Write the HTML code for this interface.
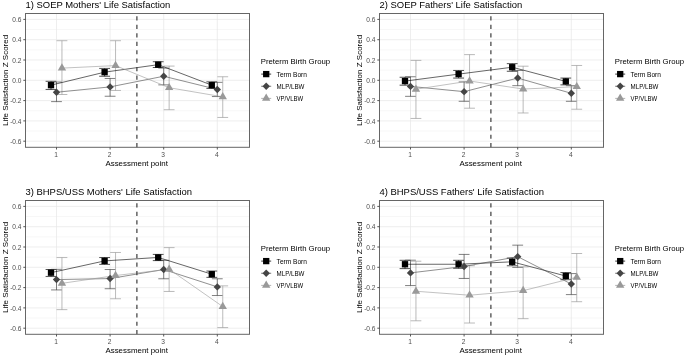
<!DOCTYPE html>
<html><head><meta charset="utf-8"><title>Life Satisfaction</title>
<style>html,body{margin:0;padding:0;background:#fff}body{width:685px;height:356px;overflow:hidden;font-family:"Liberation Sans",sans-serif}svg{display:block;will-change:transform}</style>
</head><body>
<svg width="685" height="356" viewBox="0 0 685 356" font-family="Liberation Sans, sans-serif">
<rect width="685" height="356" fill="#fff"/>
<g><line x1="25.5" x2="249.5" y1="141.20" y2="141.20" stroke="#e6e6e6" stroke-width="0.7"/>
<line x1="25.5" x2="249.5" y1="131.05" y2="131.05" stroke="#efefef" stroke-width="0.5"/>
<line x1="25.5" x2="249.5" y1="120.90" y2="120.90" stroke="#e6e6e6" stroke-width="0.7"/>
<line x1="25.5" x2="249.5" y1="110.75" y2="110.75" stroke="#efefef" stroke-width="0.5"/>
<line x1="25.5" x2="249.5" y1="100.60" y2="100.60" stroke="#e6e6e6" stroke-width="0.7"/>
<line x1="25.5" x2="249.5" y1="90.45" y2="90.45" stroke="#efefef" stroke-width="0.5"/>
<line x1="25.5" x2="249.5" y1="80.30" y2="80.30" stroke="#e6e6e6" stroke-width="0.7"/>
<line x1="25.5" x2="249.5" y1="70.15" y2="70.15" stroke="#efefef" stroke-width="0.5"/>
<line x1="25.5" x2="249.5" y1="60.00" y2="60.00" stroke="#e6e6e6" stroke-width="0.7"/>
<line x1="25.5" x2="249.5" y1="49.85" y2="49.85" stroke="#efefef" stroke-width="0.5"/>
<line x1="25.5" x2="249.5" y1="39.70" y2="39.70" stroke="#e6e6e6" stroke-width="0.7"/>
<line x1="25.5" x2="249.5" y1="29.55" y2="29.55" stroke="#efefef" stroke-width="0.5"/>
<line x1="25.5" x2="249.5" y1="19.40" y2="19.40" stroke="#e6e6e6" stroke-width="0.7"/>
<line x1="56.50" x2="56.50" y1="13.5" y2="147.3" stroke="#e6e6e6" stroke-width="0.7"/>
<line x1="110.10" x2="110.10" y1="13.5" y2="147.3" stroke="#e6e6e6" stroke-width="0.7"/>
<line x1="163.70" x2="163.70" y1="13.5" y2="147.3" stroke="#e6e6e6" stroke-width="0.7"/>
<line x1="217.30" x2="217.30" y1="13.5" y2="147.3" stroke="#e6e6e6" stroke-width="0.7"/>
<path d="M45.60 81.31H56.40M51.00 81.31V89.44M45.60 89.44H56.40" stroke="#000000" stroke-width="0.68" fill="none"/>
<path d="M99.20 68.42H110.00M104.60 68.42V76.24M99.20 76.24H110.00" stroke="#000000" stroke-width="0.68" fill="none"/>
<path d="M152.80 61.73H163.60M158.20 61.73V67.51M152.80 67.51H163.60" stroke="#000000" stroke-width="0.68" fill="none"/>
<path d="M206.40 81.82H217.20M211.80 81.82V88.42M206.40 88.42H217.20" stroke="#000000" stroke-width="0.68" fill="none"/>
<path d="M51.10 82.03H61.90M56.50 82.03V101.61M51.10 101.61H61.90" stroke="#454545" stroke-width="0.68" fill="none"/>
<path d="M104.70 78.47H115.50M110.10 78.47V96.24M104.70 96.24H115.50" stroke="#454545" stroke-width="0.68" fill="none"/>
<path d="M158.30 68.12H169.10M163.70 68.12V84.87M158.30 84.87H169.10" stroke="#454545" stroke-width="0.68" fill="none"/>
<path d="M211.90 82.33H222.70M217.30 82.33V96.54M211.90 96.54H222.70" stroke="#454545" stroke-width="0.68" fill="none"/>
<path d="M56.55 40.71H67.35M61.95 40.71V94.51M56.55 94.51H67.35" stroke="#999999" stroke-width="0.68" fill="none"/>
<path d="M110.15 40.71H120.95M115.55 40.71V90.45M110.15 90.45H120.95" stroke="#999999" stroke-width="0.68" fill="none"/>
<path d="M163.75 66.09H174.55M169.15 66.09V109.73M163.75 109.73H174.55" stroke="#999999" stroke-width="0.68" fill="none"/>
<path d="M217.35 76.75H228.15M222.75 76.75V117.45M217.35 117.45H228.15" stroke="#999999" stroke-width="0.68" fill="none"/>
<polyline points="51.00,85.17 104.60,72.18 158.20,64.67 211.80,85.17" stroke="#000000" stroke-width="0.6" fill="none"/>
<polyline points="56.50,92.28 110.10,86.90 163.70,76.24 217.30,89.44" stroke="#454545" stroke-width="0.6" fill="none"/>
<polyline points="61.95,68.12 115.55,65.58 169.15,87.71 222.75,96.84" stroke="#999999" stroke-width="0.6" fill="none"/>
<rect x="47.85" y="82.02" width="6.30" height="6.30" fill="#000000"/>
<rect x="101.45" y="69.03" width="6.30" height="6.30" fill="#000000"/>
<rect x="155.05" y="61.52" width="6.30" height="6.30" fill="#000000"/>
<rect x="208.65" y="82.02" width="6.30" height="6.30" fill="#000000"/>
<path d="M56.50 88.58L60.20 92.28L56.50 95.98L52.80 92.28Z" fill="#454545"/>
<path d="M110.10 83.20L113.80 86.90L110.10 90.60L106.40 86.90Z" fill="#454545"/>
<path d="M163.70 72.54L167.40 76.24L163.70 79.94L160.00 76.24Z" fill="#454545"/>
<path d="M217.30 85.73L221.00 89.44L217.30 93.14L213.60 89.44Z" fill="#454545"/>
<path d="M61.95 63.32L66.15 70.52L57.75 70.52Z" fill="#999999"/>
<path d="M115.55 60.78L119.75 67.98L111.35 67.98Z" fill="#999999"/>
<path d="M169.15 82.91L173.35 90.11L164.95 90.11Z" fill="#999999"/>
<path d="M222.75 92.04L226.95 99.24L218.55 99.24Z" fill="#999999"/>
<line x1="136.90" x2="136.90" y1="147.3" y2="13.5" stroke="#333" stroke-width="1.15" stroke-dasharray="4.2 4.25"/>
<rect x="25.5" y="13.5" width="224.0" height="133.8" fill="none" stroke="#666" stroke-width="1"/>
<line x1="23.3" x2="25.5" y1="141.20" y2="141.20" stroke="#444" stroke-width="0.9"/>
<text x="21.50" y="143.90" font-size="6.6" fill="#4d4d4d" text-anchor="end">-0.6</text>
<line x1="23.3" x2="25.5" y1="120.90" y2="120.90" stroke="#444" stroke-width="0.9"/>
<text x="21.50" y="123.60" font-size="6.6" fill="#4d4d4d" text-anchor="end">-0.4</text>
<line x1="23.3" x2="25.5" y1="100.60" y2="100.60" stroke="#444" stroke-width="0.9"/>
<text x="21.50" y="103.30" font-size="6.6" fill="#4d4d4d" text-anchor="end">-0.2</text>
<line x1="23.3" x2="25.5" y1="80.30" y2="80.30" stroke="#444" stroke-width="0.9"/>
<text x="21.50" y="83.00" font-size="6.6" fill="#4d4d4d" text-anchor="end">0.0</text>
<line x1="23.3" x2="25.5" y1="60.00" y2="60.00" stroke="#444" stroke-width="0.9"/>
<text x="21.50" y="62.70" font-size="6.6" fill="#4d4d4d" text-anchor="end">0.2</text>
<line x1="23.3" x2="25.5" y1="39.70" y2="39.70" stroke="#444" stroke-width="0.9"/>
<text x="21.50" y="42.40" font-size="6.6" fill="#4d4d4d" text-anchor="end">0.4</text>
<line x1="23.3" x2="25.5" y1="19.40" y2="19.40" stroke="#444" stroke-width="0.9"/>
<text x="21.50" y="22.10" font-size="6.6" fill="#4d4d4d" text-anchor="end">0.6</text>
<line x1="56.50" x2="56.50" y1="147.3" y2="149.5" stroke="#444" stroke-width="0.9"/>
 <text x="56.00" y="156.60" font-size="6.6" fill="#4d4d4d" text-anchor="middle">1</text>
<line x1="110.10" x2="110.10" y1="147.3" y2="149.5" stroke="#444" stroke-width="0.9"/>
 <text x="109.60" y="156.60" font-size="6.6" fill="#4d4d4d" text-anchor="middle">2</text>
<line x1="163.70" x2="163.70" y1="147.3" y2="149.5" stroke="#444" stroke-width="0.9"/>
 <text x="163.20" y="156.60" font-size="6.6" fill="#4d4d4d" text-anchor="middle">3</text>
<line x1="217.30" x2="217.30" y1="147.3" y2="149.5" stroke="#444" stroke-width="0.9"/>
 <text x="216.80" y="156.60" font-size="6.6" fill="#4d4d4d" text-anchor="middle">4</text>
<text x="136.65" y="165.50" font-size="7.92" fill="#000" text-anchor="middle">Assessment point</text>
<text transform="translate(7.60 80.40) rotate(-90)" font-size="8.0" fill="#000" text-anchor="middle">Life Satisfaction Z Scored</text>
<text x="25.50" y="7.90" font-size="9.45" fill="#000">1) SOEP Mothers' Life Satisfaction</text>
<text x="260.80" y="63.70" font-size="7.75" fill="#000">Preterm Birth Group</text>
<line x1="261.20" x2="271.20" y1="74.10" y2="74.10" stroke="#000000" stroke-width="0.75"/>
<rect x="263.05" y="70.95" width="6.30" height="6.30" fill="#000000"/>
<text x="276.60" y="76.90" font-size="6.6" fill="#000" textLength="30.4" lengthAdjust="spacingAndGlyphs">Term Born</text>
<line x1="261.20" x2="271.20" y1="86.25" y2="86.25" stroke="#454545" stroke-width="0.75"/>
<path d="M266.20 82.55L269.90 86.25L266.20 89.95L262.50 86.25Z" fill="#454545"/>
<text x="276.60" y="89.05" font-size="6.6" fill="#000" textLength="27.8" lengthAdjust="spacingAndGlyphs">MLP/LBW</text>
<line x1="261.20" x2="271.20" y1="98.40" y2="98.40" stroke="#999999" stroke-width="0.75"/>
<path d="M266.20 93.60L270.40 100.80L262.00 100.80Z" fill="#999999"/>
<text x="276.60" y="101.20" font-size="6.6" fill="#000" textLength="26.6" lengthAdjust="spacingAndGlyphs">VP/VLBW</text></g>
<g><line x1="379.5" x2="603.5" y1="141.20" y2="141.20" stroke="#e6e6e6" stroke-width="0.7"/>
<line x1="379.5" x2="603.5" y1="131.05" y2="131.05" stroke="#efefef" stroke-width="0.5"/>
<line x1="379.5" x2="603.5" y1="120.90" y2="120.90" stroke="#e6e6e6" stroke-width="0.7"/>
<line x1="379.5" x2="603.5" y1="110.75" y2="110.75" stroke="#efefef" stroke-width="0.5"/>
<line x1="379.5" x2="603.5" y1="100.60" y2="100.60" stroke="#e6e6e6" stroke-width="0.7"/>
<line x1="379.5" x2="603.5" y1="90.45" y2="90.45" stroke="#efefef" stroke-width="0.5"/>
<line x1="379.5" x2="603.5" y1="80.30" y2="80.30" stroke="#e6e6e6" stroke-width="0.7"/>
<line x1="379.5" x2="603.5" y1="70.15" y2="70.15" stroke="#efefef" stroke-width="0.5"/>
<line x1="379.5" x2="603.5" y1="60.00" y2="60.00" stroke="#e6e6e6" stroke-width="0.7"/>
<line x1="379.5" x2="603.5" y1="49.85" y2="49.85" stroke="#efefef" stroke-width="0.5"/>
<line x1="379.5" x2="603.5" y1="39.70" y2="39.70" stroke="#e6e6e6" stroke-width="0.7"/>
<line x1="379.5" x2="603.5" y1="29.55" y2="29.55" stroke="#efefef" stroke-width="0.5"/>
<line x1="379.5" x2="603.5" y1="19.40" y2="19.40" stroke="#e6e6e6" stroke-width="0.7"/>
<line x1="410.50" x2="410.50" y1="13.5" y2="147.3" stroke="#e6e6e6" stroke-width="0.7"/>
<line x1="464.10" x2="464.10" y1="13.5" y2="147.3" stroke="#e6e6e6" stroke-width="0.7"/>
<line x1="517.70" x2="517.70" y1="13.5" y2="147.3" stroke="#e6e6e6" stroke-width="0.7"/>
<line x1="571.30" x2="571.30" y1="13.5" y2="147.3" stroke="#e6e6e6" stroke-width="0.7"/>
<path d="M399.60 77.25H410.40M405.00 77.25V85.17M399.60 85.17H410.40" stroke="#000000" stroke-width="0.68" fill="none"/>
<path d="M453.20 70.45H464.00M458.60 70.45V78.07M453.20 78.07H464.00" stroke="#000000" stroke-width="0.68" fill="none"/>
<path d="M506.80 63.65H517.60M512.20 63.65V71.27M506.80 71.27H517.60" stroke="#000000" stroke-width="0.68" fill="none"/>
<path d="M560.40 78.07H571.20M565.80 78.07V84.87M560.40 84.87H571.20" stroke="#000000" stroke-width="0.68" fill="none"/>
<path d="M405.10 76.75H415.90M410.50 76.75V96.34M405.10 96.34H415.90" stroke="#454545" stroke-width="0.68" fill="none"/>
<path d="M458.70 81.92H469.50M464.10 81.92V101.31M458.70 101.31H469.50" stroke="#454545" stroke-width="0.68" fill="none"/>
<path d="M512.30 70.45H523.10M517.70 70.45V85.68M512.30 85.68H523.10" stroke="#454545" stroke-width="0.68" fill="none"/>
<path d="M565.90 85.68H576.70M571.30 85.68V101.31M565.90 101.31H576.70" stroke="#454545" stroke-width="0.68" fill="none"/>
<path d="M410.55 60.41H421.35M415.95 60.41V118.46M410.55 118.46H421.35" stroke="#999999" stroke-width="0.68" fill="none"/>
<path d="M464.15 54.62H474.95M469.55 54.62V108.21M464.15 108.21H474.95" stroke="#999999" stroke-width="0.68" fill="none"/>
<path d="M517.75 66.19H528.55M523.15 66.19V112.98M517.75 112.98H528.55" stroke="#999999" stroke-width="0.68" fill="none"/>
<path d="M571.35 65.48H582.15M576.75 65.48V109.23M571.35 109.23H582.15" stroke="#999999" stroke-width="0.68" fill="none"/>
<polyline points="405.00,81.11 458.60,74.11 512.20,67.21 565.80,81.42" stroke="#000000" stroke-width="0.6" fill="none"/>
<polyline points="410.50,86.39 464.10,91.67 517.70,78.07 571.30,93.29" stroke="#454545" stroke-width="0.6" fill="none"/>
<polyline points="415.95,89.23 469.55,81.01 523.15,89.03 576.75,86.69" stroke="#999999" stroke-width="0.6" fill="none"/>
<rect x="401.85" y="77.96" width="6.30" height="6.30" fill="#000000"/>
<rect x="455.45" y="70.96" width="6.30" height="6.30" fill="#000000"/>
<rect x="509.05" y="64.06" width="6.30" height="6.30" fill="#000000"/>
<rect x="562.65" y="78.27" width="6.30" height="6.30" fill="#000000"/>
<path d="M410.50 82.69L414.20 86.39L410.50 90.09L406.80 86.39Z" fill="#454545"/>
<path d="M464.10 87.97L467.80 91.67L464.10 95.37L460.40 91.67Z" fill="#454545"/>
<path d="M517.70 74.37L521.40 78.07L517.70 81.77L514.00 78.07Z" fill="#454545"/>
<path d="M571.30 89.59L575.00 93.29L571.30 96.99L567.60 93.29Z" fill="#454545"/>
<path d="M415.95 84.43L420.15 91.63L411.75 91.63Z" fill="#999999"/>
<path d="M469.55 76.21L473.75 83.41L465.35 83.41Z" fill="#999999"/>
<path d="M523.15 84.23L527.35 91.43L518.95 91.43Z" fill="#999999"/>
<path d="M576.75 81.89L580.95 89.09L572.55 89.09Z" fill="#999999"/>
<line x1="490.90" x2="490.90" y1="147.3" y2="13.5" stroke="#333" stroke-width="1.15" stroke-dasharray="4.2 4.25"/>
<rect x="379.5" y="13.5" width="224.0" height="133.8" fill="none" stroke="#666" stroke-width="1"/>
<line x1="377.3" x2="379.5" y1="141.20" y2="141.20" stroke="#444" stroke-width="0.9"/>
<text x="375.50" y="143.90" font-size="6.6" fill="#4d4d4d" text-anchor="end">-0.6</text>
<line x1="377.3" x2="379.5" y1="120.90" y2="120.90" stroke="#444" stroke-width="0.9"/>
<text x="375.50" y="123.60" font-size="6.6" fill="#4d4d4d" text-anchor="end">-0.4</text>
<line x1="377.3" x2="379.5" y1="100.60" y2="100.60" stroke="#444" stroke-width="0.9"/>
<text x="375.50" y="103.30" font-size="6.6" fill="#4d4d4d" text-anchor="end">-0.2</text>
<line x1="377.3" x2="379.5" y1="80.30" y2="80.30" stroke="#444" stroke-width="0.9"/>
<text x="375.50" y="83.00" font-size="6.6" fill="#4d4d4d" text-anchor="end">0.0</text>
<line x1="377.3" x2="379.5" y1="60.00" y2="60.00" stroke="#444" stroke-width="0.9"/>
<text x="375.50" y="62.70" font-size="6.6" fill="#4d4d4d" text-anchor="end">0.2</text>
<line x1="377.3" x2="379.5" y1="39.70" y2="39.70" stroke="#444" stroke-width="0.9"/>
<text x="375.50" y="42.40" font-size="6.6" fill="#4d4d4d" text-anchor="end">0.4</text>
<line x1="377.3" x2="379.5" y1="19.40" y2="19.40" stroke="#444" stroke-width="0.9"/>
<text x="375.50" y="22.10" font-size="6.6" fill="#4d4d4d" text-anchor="end">0.6</text>
<line x1="410.50" x2="410.50" y1="147.3" y2="149.5" stroke="#444" stroke-width="0.9"/>
 <text x="410.00" y="156.60" font-size="6.6" fill="#4d4d4d" text-anchor="middle">1</text>
<line x1="464.10" x2="464.10" y1="147.3" y2="149.5" stroke="#444" stroke-width="0.9"/>
 <text x="463.60" y="156.60" font-size="6.6" fill="#4d4d4d" text-anchor="middle">2</text>
<line x1="517.70" x2="517.70" y1="147.3" y2="149.5" stroke="#444" stroke-width="0.9"/>
 <text x="517.20" y="156.60" font-size="6.6" fill="#4d4d4d" text-anchor="middle">3</text>
<line x1="571.30" x2="571.30" y1="147.3" y2="149.5" stroke="#444" stroke-width="0.9"/>
 <text x="570.80" y="156.60" font-size="6.6" fill="#4d4d4d" text-anchor="middle">4</text>
<text x="490.65" y="165.50" font-size="7.92" fill="#000" text-anchor="middle">Assessment point</text>
<text transform="translate(361.60 80.40) rotate(-90)" font-size="8.0" fill="#000" text-anchor="middle">Life Satisfaction Z Scored</text>
<text x="379.50" y="7.90" font-size="9.45" fill="#000">2) SOEP Fathers' Life Satisfaction</text>
<text x="614.80" y="63.70" font-size="7.75" fill="#000">Preterm Birth Group</text>
<line x1="615.20" x2="625.20" y1="74.10" y2="74.10" stroke="#000000" stroke-width="0.75"/>
<rect x="617.05" y="70.95" width="6.30" height="6.30" fill="#000000"/>
<text x="630.60" y="76.90" font-size="6.6" fill="#000" textLength="30.4" lengthAdjust="spacingAndGlyphs">Term Born</text>
<line x1="615.20" x2="625.20" y1="86.25" y2="86.25" stroke="#454545" stroke-width="0.75"/>
<path d="M620.20 82.55L623.90 86.25L620.20 89.95L616.50 86.25Z" fill="#454545"/>
<text x="630.60" y="89.05" font-size="6.6" fill="#000" textLength="27.8" lengthAdjust="spacingAndGlyphs">MLP/LBW</text>
<line x1="615.20" x2="625.20" y1="98.40" y2="98.40" stroke="#999999" stroke-width="0.75"/>
<path d="M620.20 93.60L624.40 100.80L616.00 100.80Z" fill="#999999"/>
<text x="630.60" y="101.20" font-size="6.6" fill="#000" textLength="26.6" lengthAdjust="spacingAndGlyphs">VP/VLBW</text></g>
<g><line x1="25.5" x2="249.5" y1="328.20" y2="328.20" stroke="#e6e6e6" stroke-width="0.7"/>
<line x1="25.5" x2="249.5" y1="318.05" y2="318.05" stroke="#efefef" stroke-width="0.5"/>
<line x1="25.5" x2="249.5" y1="307.90" y2="307.90" stroke="#e6e6e6" stroke-width="0.7"/>
<line x1="25.5" x2="249.5" y1="297.75" y2="297.75" stroke="#efefef" stroke-width="0.5"/>
<line x1="25.5" x2="249.5" y1="287.60" y2="287.60" stroke="#e6e6e6" stroke-width="0.7"/>
<line x1="25.5" x2="249.5" y1="277.45" y2="277.45" stroke="#efefef" stroke-width="0.5"/>
<line x1="25.5" x2="249.5" y1="267.30" y2="267.30" stroke="#e6e6e6" stroke-width="0.7"/>
<line x1="25.5" x2="249.5" y1="257.15" y2="257.15" stroke="#efefef" stroke-width="0.5"/>
<line x1="25.5" x2="249.5" y1="247.00" y2="247.00" stroke="#e6e6e6" stroke-width="0.7"/>
<line x1="25.5" x2="249.5" y1="236.85" y2="236.85" stroke="#efefef" stroke-width="0.5"/>
<line x1="25.5" x2="249.5" y1="226.70" y2="226.70" stroke="#e6e6e6" stroke-width="0.7"/>
<line x1="25.5" x2="249.5" y1="216.55" y2="216.55" stroke="#efefef" stroke-width="0.5"/>
<line x1="25.5" x2="249.5" y1="206.40" y2="206.40" stroke="#e6e6e6" stroke-width="0.7"/>
<line x1="56.50" x2="56.50" y1="200.5" y2="334.3" stroke="#e6e6e6" stroke-width="0.7"/>
<line x1="110.10" x2="110.10" y1="200.5" y2="334.3" stroke="#e6e6e6" stroke-width="0.7"/>
<line x1="163.70" x2="163.70" y1="200.5" y2="334.3" stroke="#e6e6e6" stroke-width="0.7"/>
<line x1="217.30" x2="217.30" y1="200.5" y2="334.3" stroke="#e6e6e6" stroke-width="0.7"/>
<path d="M45.60 269.53H56.40M51.00 269.53V276.44M45.60 276.44H56.40" stroke="#000000" stroke-width="0.68" fill="none"/>
<path d="M99.20 257.56H110.00M104.60 257.56V264.36M99.20 264.36H110.00" stroke="#000000" stroke-width="0.68" fill="none"/>
<path d="M152.80 254.41H163.60M158.20 254.41V260.60M152.80 260.60H163.60" stroke="#000000" stroke-width="0.68" fill="none"/>
<path d="M206.40 271.06H217.20M211.80 271.06V277.35M206.40 277.35H217.20" stroke="#000000" stroke-width="0.68" fill="none"/>
<path d="M51.10 269.33H61.90M56.50 269.33V289.93M51.10 289.93H61.90" stroke="#454545" stroke-width="0.68" fill="none"/>
<path d="M104.70 269.53H115.50M110.10 269.53V288.72M104.70 288.72H115.50" stroke="#454545" stroke-width="0.68" fill="none"/>
<path d="M158.30 260.30H169.10M163.70 260.30V278.77M158.30 278.77H169.10" stroke="#454545" stroke-width="0.68" fill="none"/>
<path d="M211.90 278.77H222.70M217.30 278.77V295.52M211.90 295.52H222.70" stroke="#454545" stroke-width="0.68" fill="none"/>
<path d="M56.55 257.56H67.35M61.95 257.56V309.63M56.55 309.63H67.35" stroke="#999999" stroke-width="0.68" fill="none"/>
<path d="M110.15 252.48H120.95M115.55 252.48V298.76M110.15 298.76H120.95" stroke="#999999" stroke-width="0.68" fill="none"/>
<path d="M163.75 247.61H174.55M169.15 247.61V291.46M163.75 291.46H174.55" stroke="#999999" stroke-width="0.68" fill="none"/>
<path d="M217.35 285.87H228.15M222.75 285.87V327.59M217.35 327.59H228.15" stroke="#999999" stroke-width="0.68" fill="none"/>
<polyline points="51.00,272.68 104.60,260.91 158.20,257.45 211.80,274.20" stroke="#000000" stroke-width="0.6" fill="none"/>
<polyline points="56.50,279.58 110.10,278.57 163.70,269.53 217.30,286.89" stroke="#454545" stroke-width="0.6" fill="none"/>
<polyline points="61.95,283.34 115.55,275.52 169.15,269.23 222.75,306.58" stroke="#999999" stroke-width="0.6" fill="none"/>
<rect x="47.85" y="269.53" width="6.30" height="6.30" fill="#000000"/>
<rect x="101.45" y="257.76" width="6.30" height="6.30" fill="#000000"/>
<rect x="155.05" y="254.30" width="6.30" height="6.30" fill="#000000"/>
<rect x="208.65" y="271.05" width="6.30" height="6.30" fill="#000000"/>
<path d="M56.50 275.88L60.20 279.58L56.50 283.28L52.80 279.58Z" fill="#454545"/>
<path d="M110.10 274.87L113.80 278.57L110.10 282.27L106.40 278.57Z" fill="#454545"/>
<path d="M163.70 265.83L167.40 269.53L163.70 273.23L160.00 269.53Z" fill="#454545"/>
<path d="M217.30 283.19L221.00 286.89L217.30 290.59L213.60 286.89Z" fill="#454545"/>
<path d="M61.95 278.54L66.15 285.74L57.75 285.74Z" fill="#999999"/>
<path d="M115.55 270.72L119.75 277.92L111.35 277.92Z" fill="#999999"/>
<path d="M169.15 264.43L173.35 271.63L164.95 271.63Z" fill="#999999"/>
<path d="M222.75 301.78L226.95 308.98L218.55 308.98Z" fill="#999999"/>
<line x1="136.90" x2="136.90" y1="334.3" y2="200.5" stroke="#333" stroke-width="1.15" stroke-dasharray="4.2 4.25"/>
<rect x="25.5" y="200.5" width="224.0" height="133.8" fill="none" stroke="#666" stroke-width="1"/>
<line x1="23.3" x2="25.5" y1="328.20" y2="328.20" stroke="#444" stroke-width="0.9"/>
<text x="21.50" y="330.90" font-size="6.6" fill="#4d4d4d" text-anchor="end">-0.6</text>
<line x1="23.3" x2="25.5" y1="307.90" y2="307.90" stroke="#444" stroke-width="0.9"/>
<text x="21.50" y="310.60" font-size="6.6" fill="#4d4d4d" text-anchor="end">-0.4</text>
<line x1="23.3" x2="25.5" y1="287.60" y2="287.60" stroke="#444" stroke-width="0.9"/>
<text x="21.50" y="290.30" font-size="6.6" fill="#4d4d4d" text-anchor="end">-0.2</text>
<line x1="23.3" x2="25.5" y1="267.30" y2="267.30" stroke="#444" stroke-width="0.9"/>
<text x="21.50" y="270.00" font-size="6.6" fill="#4d4d4d" text-anchor="end">0.0</text>
<line x1="23.3" x2="25.5" y1="247.00" y2="247.00" stroke="#444" stroke-width="0.9"/>
<text x="21.50" y="249.70" font-size="6.6" fill="#4d4d4d" text-anchor="end">0.2</text>
<line x1="23.3" x2="25.5" y1="226.70" y2="226.70" stroke="#444" stroke-width="0.9"/>
<text x="21.50" y="229.40" font-size="6.6" fill="#4d4d4d" text-anchor="end">0.4</text>
<line x1="23.3" x2="25.5" y1="206.40" y2="206.40" stroke="#444" stroke-width="0.9"/>
<text x="21.50" y="209.10" font-size="6.6" fill="#4d4d4d" text-anchor="end">0.6</text>
<line x1="56.50" x2="56.50" y1="334.3" y2="336.5" stroke="#444" stroke-width="0.9"/>
 <text x="56.00" y="343.60" font-size="6.6" fill="#4d4d4d" text-anchor="middle">1</text>
<line x1="110.10" x2="110.10" y1="334.3" y2="336.5" stroke="#444" stroke-width="0.9"/>
 <text x="109.60" y="343.60" font-size="6.6" fill="#4d4d4d" text-anchor="middle">2</text>
<line x1="163.70" x2="163.70" y1="334.3" y2="336.5" stroke="#444" stroke-width="0.9"/>
 <text x="163.20" y="343.60" font-size="6.6" fill="#4d4d4d" text-anchor="middle">3</text>
<line x1="217.30" x2="217.30" y1="334.3" y2="336.5" stroke="#444" stroke-width="0.9"/>
 <text x="216.80" y="343.60" font-size="6.6" fill="#4d4d4d" text-anchor="middle">4</text>
<text x="136.65" y="352.50" font-size="7.92" fill="#000" text-anchor="middle">Assessment point</text>
<text transform="translate(7.60 267.40) rotate(-90)" font-size="8.0" fill="#000" text-anchor="middle">Life Satisfaction Z Scored</text>
<text x="25.50" y="194.90" font-size="9.45" fill="#000">3) BHPS/USS Mothers' Life Satisfaction</text>
<text x="260.80" y="250.70" font-size="7.75" fill="#000">Preterm Birth Group</text>
<line x1="261.20" x2="271.20" y1="261.10" y2="261.10" stroke="#000000" stroke-width="0.75"/>
<rect x="263.05" y="257.95" width="6.30" height="6.30" fill="#000000"/>
<text x="276.60" y="263.90" font-size="6.6" fill="#000" textLength="30.4" lengthAdjust="spacingAndGlyphs">Term Born</text>
<line x1="261.20" x2="271.20" y1="273.25" y2="273.25" stroke="#454545" stroke-width="0.75"/>
<path d="M266.20 269.55L269.90 273.25L266.20 276.95L262.50 273.25Z" fill="#454545"/>
<text x="276.60" y="276.05" font-size="6.6" fill="#000" textLength="27.8" lengthAdjust="spacingAndGlyphs">MLP/LBW</text>
<line x1="261.20" x2="271.20" y1="285.40" y2="285.40" stroke="#999999" stroke-width="0.75"/>
<path d="M266.20 280.60L270.40 287.80L262.00 287.80Z" fill="#999999"/>
<text x="276.60" y="288.20" font-size="6.6" fill="#000" textLength="26.6" lengthAdjust="spacingAndGlyphs">VP/VLBW</text></g>
<g><line x1="379.5" x2="603.5" y1="328.20" y2="328.20" stroke="#e6e6e6" stroke-width="0.7"/>
<line x1="379.5" x2="603.5" y1="318.05" y2="318.05" stroke="#efefef" stroke-width="0.5"/>
<line x1="379.5" x2="603.5" y1="307.90" y2="307.90" stroke="#e6e6e6" stroke-width="0.7"/>
<line x1="379.5" x2="603.5" y1="297.75" y2="297.75" stroke="#efefef" stroke-width="0.5"/>
<line x1="379.5" x2="603.5" y1="287.60" y2="287.60" stroke="#e6e6e6" stroke-width="0.7"/>
<line x1="379.5" x2="603.5" y1="277.45" y2="277.45" stroke="#efefef" stroke-width="0.5"/>
<line x1="379.5" x2="603.5" y1="267.30" y2="267.30" stroke="#e6e6e6" stroke-width="0.7"/>
<line x1="379.5" x2="603.5" y1="257.15" y2="257.15" stroke="#efefef" stroke-width="0.5"/>
<line x1="379.5" x2="603.5" y1="247.00" y2="247.00" stroke="#e6e6e6" stroke-width="0.7"/>
<line x1="379.5" x2="603.5" y1="236.85" y2="236.85" stroke="#efefef" stroke-width="0.5"/>
<line x1="379.5" x2="603.5" y1="226.70" y2="226.70" stroke="#e6e6e6" stroke-width="0.7"/>
<line x1="379.5" x2="603.5" y1="216.55" y2="216.55" stroke="#efefef" stroke-width="0.5"/>
<line x1="379.5" x2="603.5" y1="206.40" y2="206.40" stroke="#e6e6e6" stroke-width="0.7"/>
<line x1="410.50" x2="410.50" y1="200.5" y2="334.3" stroke="#e6e6e6" stroke-width="0.7"/>
<line x1="464.10" x2="464.10" y1="200.5" y2="334.3" stroke="#e6e6e6" stroke-width="0.7"/>
<line x1="517.70" x2="517.70" y1="200.5" y2="334.3" stroke="#e6e6e6" stroke-width="0.7"/>
<line x1="571.30" x2="571.30" y1="200.5" y2="334.3" stroke="#e6e6e6" stroke-width="0.7"/>
<path d="M399.60 260.30H410.40M405.00 260.30V268.62M399.60 268.62H410.40" stroke="#000000" stroke-width="0.68" fill="none"/>
<path d="M453.20 260.30H464.00M458.60 260.30V268.31M453.20 268.31H464.00" stroke="#000000" stroke-width="0.68" fill="none"/>
<path d="M506.80 258.06H517.60M512.20 258.06V265.78M506.80 265.78H517.60" stroke="#000000" stroke-width="0.68" fill="none"/>
<path d="M560.40 272.58H571.20M565.80 272.58V279.68M560.40 279.68H571.20" stroke="#000000" stroke-width="0.68" fill="none"/>
<path d="M405.10 260.19H415.90M410.50 260.19V285.57M405.10 285.57H415.90" stroke="#454545" stroke-width="0.68" fill="none"/>
<path d="M458.70 254.41H469.50M464.10 254.41V278.47M458.70 278.47H469.50" stroke="#454545" stroke-width="0.68" fill="none"/>
<path d="M512.30 245.17H523.10M517.70 245.17V267.40M512.30 267.40H523.10" stroke="#454545" stroke-width="0.68" fill="none"/>
<path d="M565.90 273.59H576.70M571.30 273.59V294.60M565.90 294.60H576.70" stroke="#454545" stroke-width="0.68" fill="none"/>
<path d="M410.55 261.21H421.35M415.95 261.21V320.79M410.55 320.79H421.35" stroke="#999999" stroke-width="0.68" fill="none"/>
<path d="M464.15 265.78H474.95M469.55 265.78V323.02M464.15 323.02H474.95" stroke="#999999" stroke-width="0.68" fill="none"/>
<path d="M517.75 266.79H528.55M523.15 266.79V318.66M517.75 318.66H528.55" stroke="#999999" stroke-width="0.68" fill="none"/>
<path d="M571.35 253.50H582.15M576.75 253.50V301.71M571.35 301.71H582.15" stroke="#999999" stroke-width="0.68" fill="none"/>
<polyline points="405.00,264.25 458.60,264.25 512.20,261.82 565.80,276.03" stroke="#000000" stroke-width="0.6" fill="none"/>
<polyline points="410.50,272.88 464.10,266.49 517.70,256.64 571.30,284.05" stroke="#454545" stroke-width="0.6" fill="none"/>
<polyline points="415.95,291.25 469.55,295.21 523.15,290.65 576.75,277.25" stroke="#999999" stroke-width="0.6" fill="none"/>
<rect x="401.85" y="261.11" width="6.30" height="6.30" fill="#000000"/>
<rect x="455.45" y="261.11" width="6.30" height="6.30" fill="#000000"/>
<rect x="509.05" y="258.67" width="6.30" height="6.30" fill="#000000"/>
<rect x="562.65" y="272.88" width="6.30" height="6.30" fill="#000000"/>
<path d="M410.50 269.18L414.20 272.88L410.50 276.58L406.80 272.88Z" fill="#454545"/>
<path d="M464.10 262.79L467.80 266.49L464.10 270.19L460.40 266.49Z" fill="#454545"/>
<path d="M517.70 252.94L521.40 256.64L517.70 260.34L514.00 256.64Z" fill="#454545"/>
<path d="M571.30 280.35L575.00 284.05L571.30 287.75L567.60 284.05Z" fill="#454545"/>
<path d="M415.95 286.45L420.15 293.65L411.75 293.65Z" fill="#999999"/>
<path d="M469.55 290.41L473.75 297.61L465.35 297.61Z" fill="#999999"/>
<path d="M523.15 285.85L527.35 293.05L518.95 293.05Z" fill="#999999"/>
<path d="M576.75 272.45L580.95 279.65L572.55 279.65Z" fill="#999999"/>
<line x1="490.90" x2="490.90" y1="334.3" y2="200.5" stroke="#333" stroke-width="1.15" stroke-dasharray="4.2 4.25"/>
<rect x="379.5" y="200.5" width="224.0" height="133.8" fill="none" stroke="#666" stroke-width="1"/>
<line x1="377.3" x2="379.5" y1="328.20" y2="328.20" stroke="#444" stroke-width="0.9"/>
<text x="375.50" y="330.90" font-size="6.6" fill="#4d4d4d" text-anchor="end">-0.6</text>
<line x1="377.3" x2="379.5" y1="307.90" y2="307.90" stroke="#444" stroke-width="0.9"/>
<text x="375.50" y="310.60" font-size="6.6" fill="#4d4d4d" text-anchor="end">-0.4</text>
<line x1="377.3" x2="379.5" y1="287.60" y2="287.60" stroke="#444" stroke-width="0.9"/>
<text x="375.50" y="290.30" font-size="6.6" fill="#4d4d4d" text-anchor="end">-0.2</text>
<line x1="377.3" x2="379.5" y1="267.30" y2="267.30" stroke="#444" stroke-width="0.9"/>
<text x="375.50" y="270.00" font-size="6.6" fill="#4d4d4d" text-anchor="end">0.0</text>
<line x1="377.3" x2="379.5" y1="247.00" y2="247.00" stroke="#444" stroke-width="0.9"/>
<text x="375.50" y="249.70" font-size="6.6" fill="#4d4d4d" text-anchor="end">0.2</text>
<line x1="377.3" x2="379.5" y1="226.70" y2="226.70" stroke="#444" stroke-width="0.9"/>
<text x="375.50" y="229.40" font-size="6.6" fill="#4d4d4d" text-anchor="end">0.4</text>
<line x1="377.3" x2="379.5" y1="206.40" y2="206.40" stroke="#444" stroke-width="0.9"/>
<text x="375.50" y="209.10" font-size="6.6" fill="#4d4d4d" text-anchor="end">0.6</text>
<line x1="410.50" x2="410.50" y1="334.3" y2="336.5" stroke="#444" stroke-width="0.9"/>
 <text x="410.00" y="343.60" font-size="6.6" fill="#4d4d4d" text-anchor="middle">1</text>
<line x1="464.10" x2="464.10" y1="334.3" y2="336.5" stroke="#444" stroke-width="0.9"/>
 <text x="463.60" y="343.60" font-size="6.6" fill="#4d4d4d" text-anchor="middle">2</text>
<line x1="517.70" x2="517.70" y1="334.3" y2="336.5" stroke="#444" stroke-width="0.9"/>
 <text x="517.20" y="343.60" font-size="6.6" fill="#4d4d4d" text-anchor="middle">3</text>
<line x1="571.30" x2="571.30" y1="334.3" y2="336.5" stroke="#444" stroke-width="0.9"/>
 <text x="570.80" y="343.60" font-size="6.6" fill="#4d4d4d" text-anchor="middle">4</text>
<text x="490.65" y="352.50" font-size="7.92" fill="#000" text-anchor="middle">Assessment point</text>
<text transform="translate(361.60 267.40) rotate(-90)" font-size="8.0" fill="#000" text-anchor="middle">Life Satisfaction Z Scored</text>
<text x="379.50" y="194.90" font-size="9.45" fill="#000">4) BHPS/USS Fathers' Life Satisfaction</text>
<text x="614.80" y="250.70" font-size="7.75" fill="#000">Preterm Birth Group</text>
<line x1="615.20" x2="625.20" y1="261.10" y2="261.10" stroke="#000000" stroke-width="0.75"/>
<rect x="617.05" y="257.95" width="6.30" height="6.30" fill="#000000"/>
<text x="630.60" y="263.90" font-size="6.6" fill="#000" textLength="30.4" lengthAdjust="spacingAndGlyphs">Term Born</text>
<line x1="615.20" x2="625.20" y1="273.25" y2="273.25" stroke="#454545" stroke-width="0.75"/>
<path d="M620.20 269.55L623.90 273.25L620.20 276.95L616.50 273.25Z" fill="#454545"/>
<text x="630.60" y="276.05" font-size="6.6" fill="#000" textLength="27.8" lengthAdjust="spacingAndGlyphs">MLP/LBW</text>
<line x1="615.20" x2="625.20" y1="285.40" y2="285.40" stroke="#999999" stroke-width="0.75"/>
<path d="M620.20 280.60L624.40 287.80L616.00 287.80Z" fill="#999999"/>
<text x="630.60" y="288.20" font-size="6.6" fill="#000" textLength="26.6" lengthAdjust="spacingAndGlyphs">VP/VLBW</text></g>
</svg>
</body></html>
